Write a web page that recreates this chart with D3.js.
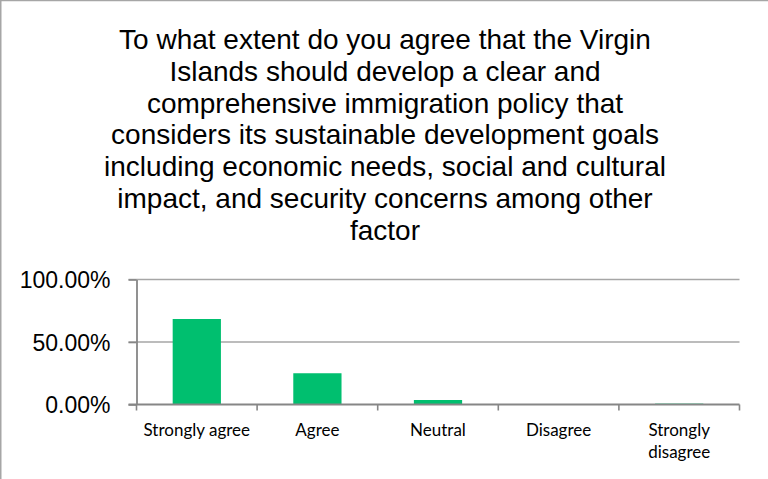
<!DOCTYPE html>
<html>
<head>
<meta charset="utf-8">
<script src="https://cdn.jsdelivr.net/npm/d3@7"></script>
<style>
  html, body { margin: 0; padding: 0; background: #fff; }
  svg { display: block; }
</style>
</head>
<body>
<svg id="chart" width="768" height="479"></svg>
<script>
// Survey responses (share of respondents)
const categories = ["Strongly agree", "Agree", "Neutral", "Disagree", "Strongly disagree"];
const shares = [0.684, 0.25, 0.036, 0, 0.007];
const yTicks = [0, 0.5, 1];
const titleLines = [
  "To what extent do you agree that the Virgin",
  "Islands should develop a clear and",
  "comprehensive immigration policy that",
  "considers its sustainable development goals",
  "including economic needs, social and cultural",
  "impact, and security concerns among other",
  "factor"
];

const svg = d3.select("#chart");
const W = 768, H = 479;
const plot = { left: 136.5, right: 739.5, top: 279.5, bottom: 404.5 };

// frame edges
svg.append("line").attr("x1", 0).attr("x2", W).attr("y1", 0.5).attr("y2", 0.5)
  .attr("stroke", "#a6a6a6").attr("stroke-width", 1.5);
svg.append("line").attr("x1", 0.75).attr("x2", 0.75).attr("y1", 0).attr("y2", H)
  .attr("stroke", "#a6a6a6").attr("stroke-width", 1.5);

// title
const title = svg.append("text")
  .attr("text-anchor", "middle")
  .attr("font-family", "'Liberation Sans', Arial, sans-serif")
  .attr("font-size", 28)
  .attr("fill", "#000");
titleLines.forEach((line, i) => {
  title.append("tspan").attr("x", 385).attr("y", 49 + i * 31.8).text(line);
});

const x = d3.scaleBand().domain(categories)
  .range([plot.left, plot.right]).paddingInner(0.6).paddingOuter(0.3);
const y = d3.scaleLinear().domain([0, 1]).range([plot.bottom, plot.top]);

// gridlines
svg.append("g").selectAll("line").data(yTicks.filter(d => d > 0)).join("line")
  .attr("x1", plot.left - 8).attr("x2", plot.right)
  .attr("y1", d => y(d)).attr("y2", d => y(d))
  .attr("stroke", "#a6a6a6").attr("stroke-width", 1.6);

// bars
svg.append("g").selectAll("rect").data(categories).join("rect")
  .attr("x", d => x(d))
  .attr("width", x.bandwidth())
  .attr("y", (d, i) => y(shares[i]))
  .attr("height", (d, i) => y(0) - y(shares[i]))
  .attr("fill", "#00bf6f");

// y axis
const yAxis = d3.axisLeft(y).tickValues(yTicks).tickSize(8).tickSizeOuter(0).tickPadding(18)
  .tickFormat(d => d3.format(".2f")(d * 100) + "%");
const gy = svg.append("g").attr("transform", `translate(${plot.left},0)`).call(yAxis);
gy.select(".domain").attr("stroke", "#868686").attr("stroke-width", 1.8);
gy.selectAll(".tick line").attr("stroke", "#868686").attr("stroke-width", 1.6);
gy.selectAll(".tick text")
  .attr("font-family", "'Liberation Sans', Arial, sans-serif")
  .attr("font-size", 23).attr("fill", "#000").attr("dy", "0.36em");

// x axis with ticks at category boundaries
const boundaries = categories.map((c, i) => plot.left + i * x.step());
boundaries.push(plot.right);
const gx = svg.append("g");
gx.append("line").attr("x1", plot.left - 8).attr("x2", plot.right)
  .attr("y1", y(0)).attr("y2", y(0))
  .attr("stroke", "#868686").attr("stroke-width", 2);
gx.selectAll("line.tick").data(boundaries).join("line").attr("class", "tick")
  .attr("x1", d => d).attr("x2", d => d)
  .attr("y1", y(0)).attr("y2", y(0) + 6)
  .attr("stroke", "#868686").attr("stroke-width", 1.6);

// category labels
const labelLines = { "Strongly disagree": ["Strongly", "disagree"] };
categories.forEach(c => {
  const lines = labelLines[c] || [c];
  const t = svg.append("text")
    .attr("text-anchor", "middle")
    .attr("font-family", "Lato, 'Open Sans', sans-serif")
    .attr("font-size", 17).attr("fill", "#000");
  lines.forEach((l, i) => {
    t.append("tspan").attr("x", x(c) + x.bandwidth() / 2)
      .attr("y", 436 + i * 21.7).text(l);
  });
});
</script>
</body>
</html>
